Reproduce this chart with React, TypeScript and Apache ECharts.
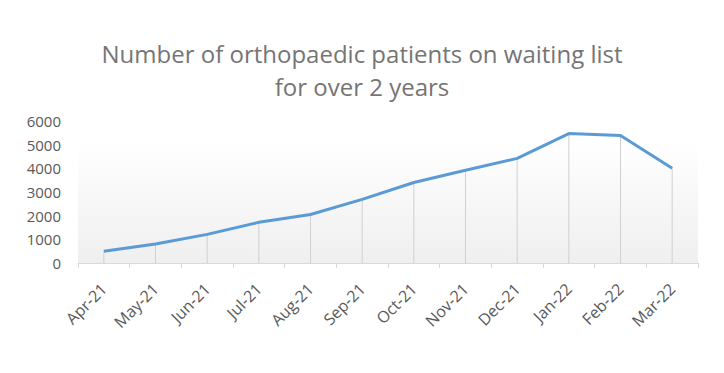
import React, { useEffect, useRef } from "react";
import * as echarts from "echarts";

const categories = ["Apr-21", "May-21", "Jun-21", "Jul-21", "Aug-21", "Sep-21", "Oct-21", "Nov-21", "Dec-21", "Jan-22", "Feb-22", "Mar-22"];
const patients = [500, 800, 1210, 1720, 2050, 2690, 3400, 3920, 4420, 5470, 5390, 4000];
const titleText = "Number of orthopaedic patients on waiting list\nfor over 2 years";
const yTicks = { min: 0, max: 6000, interval: 1000 };

export default function App() {
  const ref = useRef<HTMLDivElement>(null);
  useEffect(() => {
    if (!ref.current) return;
    const chart = echarts.init(ref.current, undefined, { renderer: "svg" });
    const font = "'Open Sans', 'Noto Sans', sans-serif";
    chart.setOption({
      animation: false,
      title: {
        text: titleText,
        left: "center",
        top: 32,
        textStyle: { color: "#757575", fontSize: 24, fontWeight: "normal", fontFamily: font, lineHeight: 33 },
      },
      grid: {
        left: 78,
        right: 26,
        top: 121,
        bottom: 110,
        show: true,
        borderWidth: 0,
        backgroundColor: {
          type: "linear", x: 0, y: 0, x2: 0, y2: 1,
          colorStops: [
            { offset: 0, color: "rgba(255,255,255,1)" },
            { offset: 0.15, color: "rgba(255,255,255,1)" },
            { offset: 1, color: "#efefef" },
          ],
        },
      },
      xAxis: {
        type: "category",
        data: categories,
        boundaryGap: true,
        axisLine: { lineStyle: { color: "#d9d9d9", width: 1 } },
        axisTick: { show: true, alignWithLabel: false, length: 5, lineStyle: { color: "#d9d9d9" } },
        axisLabel: { rotate: 45, color: "#595959", fontSize: 16, fontFamily: font, margin: 23, interval: 0 },
        splitLine: { show: false },
      },
      yAxis: {
        type: "value",
        min: yTicks.min,
        max: yTicks.max,
        interval: yTicks.interval,
        axisLine: { show: false },
        axisTick: { show: false },
        splitLine: { show: false },
        axisLabel: { color: "#595959", fontSize: 15, fontFamily: font, margin: 17, formatter: (v: number) => String(v) },
      },
      series: [
        {
          type: "bar",
          data: patients,
          barWidth: 1,
          itemStyle: { color: "#d0d0d0" },
          silent: true,
          z: 1,
        },
        {
          type: "line",
          data: patients,
          symbol: "none",
          lineStyle: { color: "#5b9bd5", width: 3 },
          z: 3,
        },
      ],
    });
    return () => chart.dispose();
  }, []);
  return <div ref={ref} style={{ width: 724, height: 373, position: "absolute", left: 0, top: 0, background: "#fff" }} />;
}
